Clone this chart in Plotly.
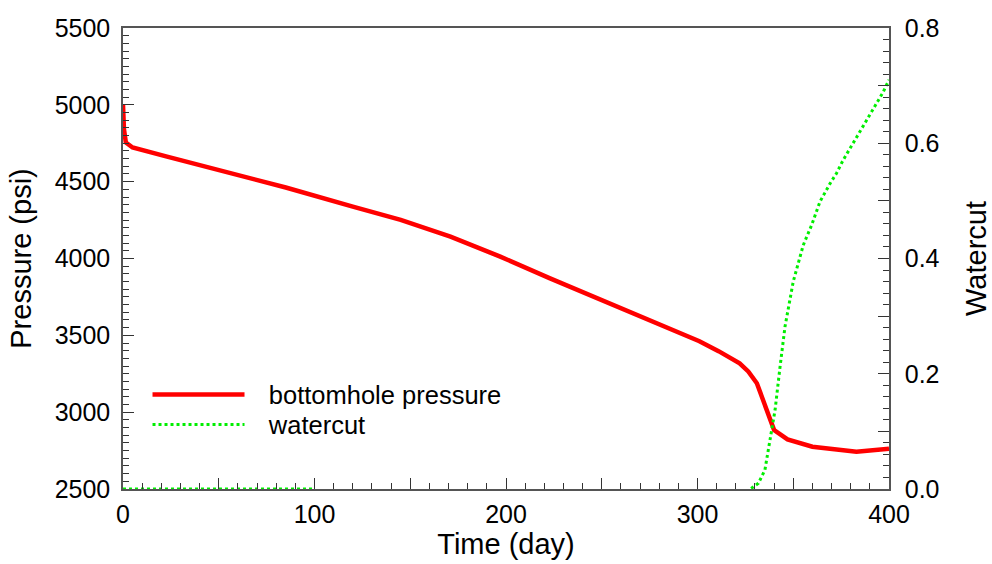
import plotly.graph_objects as go

# ---- data ----
time_p = [0, 0.5, 1.5, 5, 23, 50, 85, 120, 145, 171, 197, 223, 249, 275, 283,
          291, 301, 311, 317, 322, 326.5, 331, 340, 347, 360, 383, 400]
pressure = [5000, 4840, 4755, 4722, 4663, 4576, 4462, 4337, 4251, 4142, 4012,
            3871, 3734, 3600, 3562, 3520, 3462, 3397, 3357, 3318, 3265, 3188,
            2884, 2823, 2775, 2743, 2762]

time_w = [0, 100, None, 328, 331.8, 335.2, 337.9, 340.5, 343.1, 345.7, 350,
          355.2, 359.6, 364, 369.2, 372.6, 376.1, 383.1, 390.1, 397, 400]
watercut = [0, 0, None, 0.001, 0.01, 0.033, 0.085, 0.137, 0.212, 0.282, 0.36,
            0.423, 0.458, 0.499, 0.53, 0.548, 0.571, 0.611, 0.652, 0.689, 0.71]

x_tickvals = [0, 50, 100, 150, 200, 250, 300, 350, 400]
x_ticktext = ["0", "", "100", "", "200", "", "300", "", "400"]
y2_tickvals = [0, 0.1, 0.2, 0.3, 0.4, 0.5, 0.6, 0.7, 0.8]
y2_ticktext = ["0.0", "", "0.2", "", "0.4", "", "0.6", "", "0.8"]

FONT = "Liberation Sans, Arial, sans-serif"
AX = "#555555"
TK = "#333333"
PAD = "\u00a0\u00a0\u2009"

fig = go.Figure()
fig.add_trace(go.Scatter(x=time_p, y=pressure, mode="lines",
                         name=PAD + "bottomhole pressure", legend="legend",
                         line=dict(color="#ff0000", width=4.5)))
fig.add_trace(go.Scatter(x=time_w, y=watercut, mode="lines",
                         name=PAD + "watercut", legend="legend2",
                         yaxis="y2", connectgaps=False,
                         line=dict(color="#00ee00", width=3, dash="dot")))

leg_common = dict(x=0.032, xanchor="left", yanchor="middle",
                  bgcolor="rgba(0,0,0,0)", font=dict(size=25.5), itemwidth=92)

fig.update_layout(
    width=992, height=564,
    margin=dict(l=123, r=103, t=28, b=75, autoexpand=False),
    paper_bgcolor="white", plot_bgcolor="white",
    font=dict(family=FONT, size=24, color="black"),
    showlegend=True,
    legend=dict(y=0.204, **leg_common),
    legend2=dict(y=0.139, **leg_common),
    xaxis=dict(range=[0, 400], tickmode="array", tickvals=x_tickvals,
               ticktext=x_ticktext, ticks="inside", ticklen=11, tickwidth=1.2,
               tickcolor=TK, showline=True, linecolor=AX, linewidth=1.5,
               mirror=True, showgrid=False, zeroline=False,
               tickfont=dict(size=25), ticklabelstandoff=2,
               title=dict(text="Time (day)", font=dict(size=29), standoff=4),
               minor=dict(tickmode="linear", tick0=0, dtick=10, ticks="inside",
                          ticklen=6, tickwidth=1.2, tickcolor=TK, showgrid=False)),
    yaxis=dict(range=[2500, 5500], dtick=500, tick0=2500, ticks="inside",
               ticklen=11, tickwidth=1.2, tickcolor=TK, showline=True,
               linecolor=AX, linewidth=1.5, showgrid=False, zeroline=False,
               tickfont=dict(size=25), ticklabelstandoff=6,
               title=dict(text="Pressure (psi)", font=dict(size=29), standoff=14),
               minor=dict(tickmode="linear", tick0=2500, dtick=50, ticks="inside",
                          ticklen=6, tickwidth=1.2, tickcolor=TK, showgrid=False)),
    yaxis2=dict(range=[0, 0.8], overlaying="y", side="right", tickmode="array",
                tickvals=y2_tickvals, ticktext=y2_ticktext, ticks="inside",
                ticklen=11, tickwidth=1.2, tickcolor=TK, showline=True,
                linecolor=AX, linewidth=1.5, showgrid=False, zeroline=False,
                tickfont=dict(size=25), ticklabelstandoff=9,
                title=dict(text="Watercut", font=dict(size=29), standoff=27),
                minor=dict(tickmode="linear", tick0=0, dtick=0.02, ticks="inside",
                           ticklen=6, tickwidth=1.2, tickcolor=TK, showgrid=False)),
)

fig.write_html("out.html")
